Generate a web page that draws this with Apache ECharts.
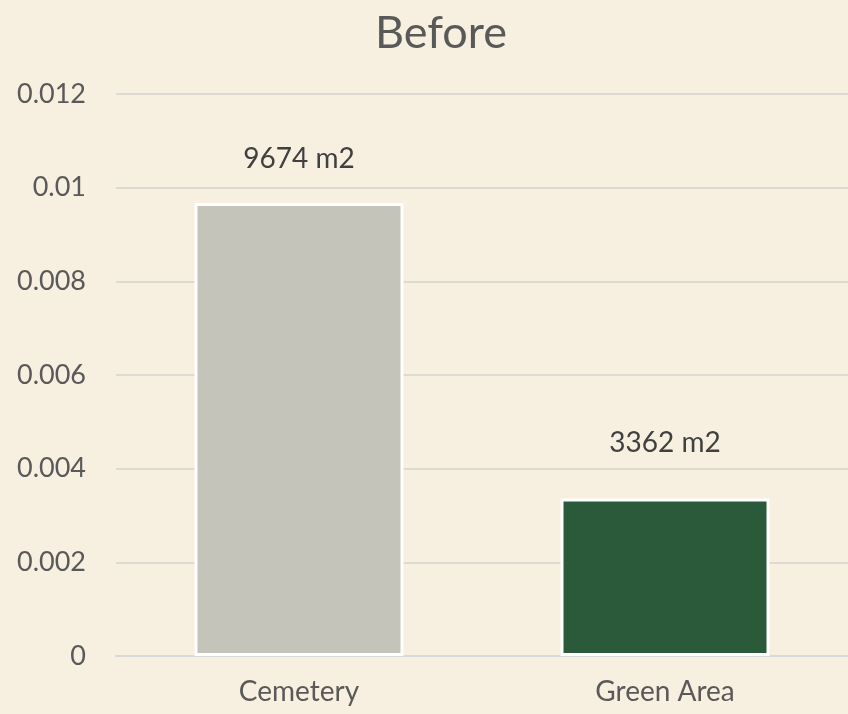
<!DOCTYPE html>
<html>
<head>
<meta charset="utf-8">
<script src="https://cdn.jsdelivr.net/npm/echarts@6/dist/echarts.min.js"></script>
<style>
  html, body { margin: 0; padding: 0; background: #F7EFDF; }
  #chart { width: 848px; height: 714px; }
</style>
</head>
<body>
<div id="chart"></div>
<script>
// Area before redevelopment (values in km², labelled in m²)
const categories = ['Cemetery', 'Green Area'];
const areaValues = [0.009674, 0.003362];
const barColors = ['#C4C4BB', '#2B5A3A'];
const labelGaps = [30, 42];
const yTicks = { min: 0, max: 0.012, interval: 0.002 };

const FONT = 'Lato, "Open Sans", sans-serif';

const chart = echarts.init(document.getElementById('chart'), null, { renderer: 'canvas' });

chart.setOption({
  backgroundColor: '#F7EFDF',
  animation: false,
  title: {
    text: 'Before',
    left: 436,
    top: 6,
    textAlign: 'center',
    textStyle: { fontFamily: FONT, fontSize: 45, fontWeight: 'normal', color: '#595959' }
  },
  grid: { left: 116, right: 0, top: 94, bottom: 58, containLabel: false },
  xAxis: {
    type: 'category',
    data: categories,
    axisLine: { show: true, lineStyle: { color: '#D9D9D9', width: 2 } },
    axisTick: { show: false },
    axisLabel: { fontFamily: FONT, fontSize: 28, color: '#595959', margin: 22 }
  },
  yAxis: {
    type: 'value',
    min: yTicks.min,
    max: yTicks.max,
    interval: yTicks.interval,
    axisLine: { show: false },
    axisTick: { show: false },
    splitLine: { lineStyle: { color: '#DDDAD2', width: 2 } },
    axisLabel: {
      fontFamily: FONT, fontSize: 27, color: '#595959', margin: 30,
      formatter: v => String(parseFloat(v.toFixed(4)))
    }
  },
  series: [{
    type: 'bar',
    barWidth: 209,
    data: areaValues.map((v, i) => ({
      value: v,
      itemStyle: { color: barColors[i], borderColor: '#FFFFFF', borderWidth: 3 },
      label: { distance: labelGaps[i] }
    })),
    label: {
      show: true,
      position: 'top',
      fontFamily: FONT,
      fontSize: 28,
      color: '#404040',
      formatter: p => Math.round(p.value * 1e6) + ' m2'
    }
  }]
});
</script>
</body>
</html>
